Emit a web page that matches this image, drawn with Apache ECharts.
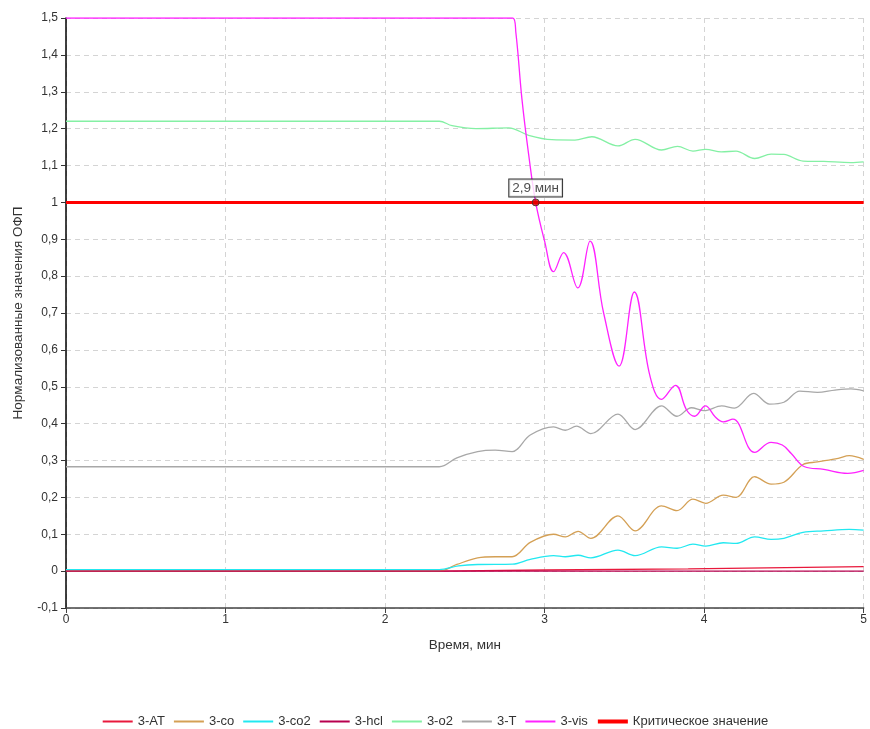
<!DOCTYPE html>
<html>
<head>
<meta charset="utf-8">
<script src="https://cdn.jsdelivr.net/npm/echarts@6/dist/echarts.min.js"></script>
<style>
  html, body { margin: 0; padding: 0; background: #fff; }
  #chart { width: 870px; height: 729px; }
</style>
</head>
<body>
<div id="chart"></div>
<script>
// Time axis (minutes) and normalised hazard factor values per series
const atT = [0, 2.34, 3.0, 3.9, 5];
const atV = [0, 0, 0.003, 0.006, 0.012];

const coT = [0, 2.34, 2.45, 2.58, 2.69, 2.796, 2.91, 3.056, 3.13, 3.21, 3.29, 3.46, 3.567, 3.733, 3.83, 3.93, 4.01, 4.12, 4.2, 4.317, 4.42, 4.5, 4.62, 4.71, 4.84, 4.91, 5];
const coV = [0, 0, 0.018, 0.036, 0.039, 0.039, 0.078, 0.100, 0.093, 0.108, 0.089, 0.150, 0.109, 0.177, 0.164, 0.195, 0.184, 0.206, 0.200, 0.256, 0.236, 0.241, 0.289, 0.296, 0.306, 0.313, 0.303];

const co2T = [0, 2.34, 2.46, 2.58, 2.8, 2.91, 3.056, 3.13, 3.21, 3.29, 3.46, 3.567, 3.733, 3.83, 3.93, 4.01, 4.12, 4.2, 4.317, 4.42, 4.5, 4.62, 4.75, 4.91, 5];
const co2V = [0.004, 0.004, 0.014, 0.018, 0.019, 0.032, 0.042, 0.039, 0.043, 0.036, 0.057, 0.042, 0.066, 0.062, 0.073, 0.068, 0.077, 0.075, 0.093, 0.086, 0.089, 0.105, 0.109, 0.113, 0.111];

const hclT = [0, 5];
const hclV = [0, 0];

const o2T = [0, 2.34, 2.42, 2.57, 2.775, 2.9, 3.046, 3.19, 3.296, 3.46, 3.567, 3.733, 3.833, 3.93, 4.01, 4.108, 4.2, 4.317, 4.42, 4.5, 4.62, 4.75, 4.92, 5];
const o2V = [1.22, 1.22, 1.208, 1.200, 1.202, 1.182, 1.170, 1.169, 1.178, 1.153, 1.171, 1.142, 1.152, 1.139, 1.144, 1.137, 1.139, 1.119, 1.131, 1.130, 1.112, 1.111, 1.108, 1.110];

const tempT = [0, 2.34, 2.45, 2.58, 2.69, 2.796, 2.91, 3.056, 3.13, 3.2, 3.29, 3.46, 3.567, 3.733, 3.83, 3.92, 4.0, 4.11, 4.19, 4.31, 4.41, 4.5, 4.6, 4.71, 4.82, 4.92, 5];
const tempV = [0.283, 0.283, 0.307, 0.324, 0.328, 0.324, 0.369, 0.391, 0.382, 0.393, 0.373, 0.426, 0.384, 0.448, 0.420, 0.443, 0.435, 0.448, 0.442, 0.482, 0.453, 0.458, 0.488, 0.485, 0.491, 0.494, 0.489];

const visT = [0, 2.80, 2.82, 2.858, 2.90, 2.944, 3.0, 3.056, 3.119, 3.208, 3.285, 3.37, 3.467, 3.5625, 3.66, 3.733, 3.82, 3.89, 3.94, 4.008, 4.07, 4.12, 4.18, 4.317, 4.42, 4.49, 4.546, 4.63, 4.75, 4.9, 5];
const visV = [1.5, 1.5, 1.46, 1.28, 1.13, 1.0, 0.895, 0.812, 0.864, 0.768, 0.895, 0.70, 0.556, 0.757, 0.53, 0.466, 0.504, 0.437, 0.420, 0.448, 0.418, 0.405, 0.412, 0.322, 0.349, 0.342, 0.319, 0.283, 0.276, 0.265, 0.273];

// Critical threshold and the moment visibility crosses it
const critT = [0, 5];
const critV = [1, 1];
const crossTime = 2.944;
const crossValue = 1;

const seriesNames = ['3-AT', '3-co', '3-co2', '3-hcl', '3-o2', '3-T', '3-vis', 'Критическое значение'];

function pairs(t, v) { return t.map((x, i) => [x, v[i]]); }
function fmtNum(v) {
  const r = Math.round(v * 10) / 10;
  return String(r).replace('.', ',');
}

function curve(name, t, v, color, smooth) {
  return {
    name: name,
    type: 'line',
    data: pairs(t, v),
    symbol: 'none',
    smooth: smooth,
    lineStyle: { color: color, width: 1.3 },
    itemStyle: { color: color },
    emphasis: { disabled: true }
  };
}

const chart = echarts.init(document.getElementById('chart'), null, { renderer: 'canvas' });
const font = 'Liberation Sans, Arial, sans-serif';

chart.setOption({
  animation: false,
  textStyle: { fontFamily: font },
  grid: { left: 66, right: 4, top: 18, bottom: 121, containLabel: false },
  legend: {
    data: seriesNames.map(n => n === 'Критическое значение'
      ? { name: n, lineStyle: { width: 4 } }
      : { name: n }),
    top: 710,
    left: 'center',
    itemWidth: 30,
    itemHeight: 10,
    itemGap: 8,
    itemStyle: { opacity: 0 },
    textStyle: { color: '#333', fontSize: 13, fontFamily: font }
  },
  xAxis: {
    type: 'value',
    min: 0, max: 5, interval: 1,
    name: 'Время, мин',
    nameLocation: 'middle',
    nameGap: 30,
    nameTextStyle: { color: '#333', fontSize: 13.5 },
    axisLine: { onZero: false, lineStyle: { color: '#444', width: 1.5 } },
    axisTick: { show: true, length: 5, lineStyle: { color: '#444' } },
    axisLabel: { color: '#333', fontSize: 12, margin: 6 },
    splitLine: { show: true, lineStyle: { color: '#d4d4d4', type: [5, 4] } }
  },
  yAxis: {
    type: 'value',
    min: -0.1, max: 1.5, interval: 0.1,
    name: 'Нормализованные значения ОФП',
    nameLocation: 'middle',
    nameGap: 41,
    nameTextStyle: { color: '#333', fontSize: 13.5 },
    axisLine: { show: true, onZero: false, lineStyle: { color: '#000', width: 1.5 } },
    axisTick: { show: true, length: 5, lineStyle: { color: '#333' } },
    axisLabel: { color: '#333', fontSize: 12, margin: 8, formatter: fmtNum },
    splitLine: { show: true, lineStyle: { color: '#d4d4d4', type: [5, 4] } }
  },
  series: [
    curve('3-AT', atT, atV, '#e8193c', false),
    curve('3-co', coT, coV, '#d4a055', 0.35),
    curve('3-co2', co2T, co2V, '#22e8f0', 0.35),
    curve('3-hcl', hclT, hclV, '#b8004f', false),
    curve('3-o2', o2T, o2V, '#84f0a4', 0.35),
    curve('3-T', tempT, tempV, '#a8a8a8', 0.35),
    curve('3-vis', visT, visV, '#ff22ff', 0.4),
    {
      name: 'Критическое значение',
      type: 'line',
      data: pairs(critT, critV),
      symbol: 'none',
      lineStyle: { color: '#ff0000', width: 3 },
      itemStyle: { color: '#ff0000' },
      emphasis: { disabled: true },
      z: 5
    },
    {
      name: 'crossing',
      type: 'scatter',
      data: [[crossTime, crossValue]],
      symbol: 'circle',
      symbolSize: 7,
      itemStyle: { color: '#e00000', borderColor: '#333', borderWidth: 1 },
      z: 6,
      label: {
        show: true,
        position: 'top',
        distance: 2,
        formatter: () => crossTime.toFixed(1).replace('.', ',') + ' мин',
        color: '#222',
        fontSize: 13.5,
        backgroundColor: '#fff',
        borderColor: '#000',
        borderWidth: 1,
        padding: [2, 3, 1, 3]
      },
      emphasis: { disabled: true }
    }
  ]
});
</script>
</body>
</html>
